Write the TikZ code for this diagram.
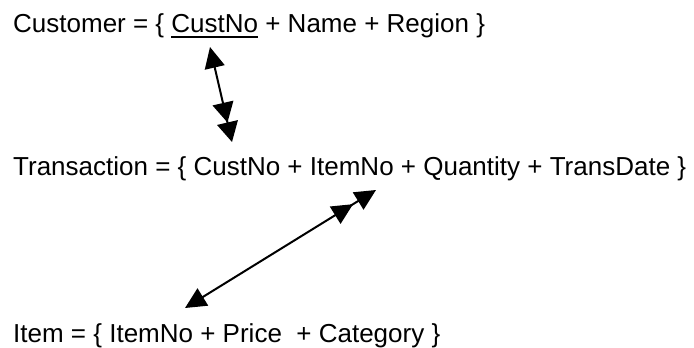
\documentclass[tikz,border=0pt]{standalone}
\usepackage{fontspec}
\setmainfont{Liberation Sans}
\usetikzlibrary{arrows.meta}
\newsavebox\ulbox
\newcommand\keyul[1]{\sbox\ulbox{#1}\rlap{\rule[-6pt]{\wd\ulbox}{2pt}}\usebox\ulbox}
\begin{document}
\begin{tikzpicture}[x=1pt,y=-1pt,
  txt/.style={anchor=base west,inner sep=0pt,font=\fontsize{26}{30}\selectfont},
  link/.style={line width=2pt},
  head/.style={Triangle[length=21pt,width=20pt]}]
\useasboundingbox (0,0) rectangle (694,348);
\node[txt] (cust) at (13,32) {Customer = \{ \keyul{CustNo} + Name + Region \}};
\node[txt] (trans) at (13,175) {Transaction = \{ CustNo + ItemNo + Quantity + TransDate \}};
\node[txt] (item) at (13,342) {Item = \{ ItemNo + Price\ \ + Category \}};
\coordinate (c1) at (210,47);
\coordinate (t1) at (232,142);
\coordinate (i1) at (185,308);
\coordinate (t2) at (376,190);
\draw[link,{Triangle[length=21pt,width=20pt]}-{Triangle[length=20pt,width=21pt] Triangle[length=20pt,width=21pt]}] (c1) -- (t1);
\draw[link,{Triangle[length=21pt,width=20pt]}-{Triangle[length=21pt,width=20pt,sep=6pt] Triangle[length=21pt,width=20pt]}] (i1) -- (t2);
\end{tikzpicture}
\end{document}
